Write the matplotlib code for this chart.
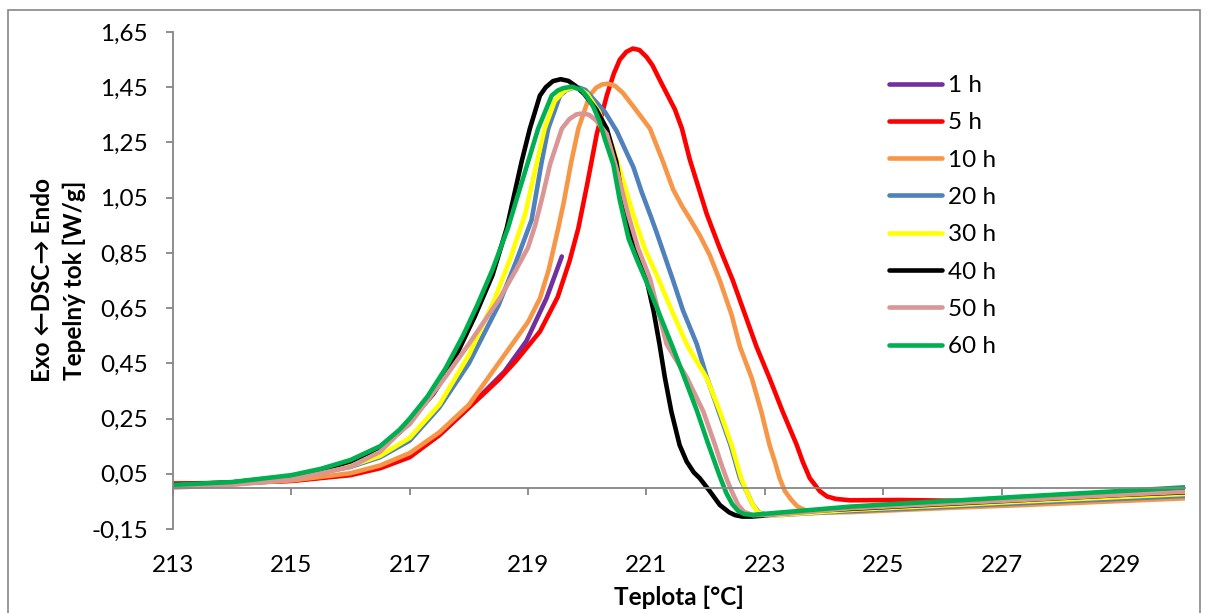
import matplotlib
matplotlib.use("Agg")
import matplotlib.pyplot as plt
from matplotlib.patches import Rectangle

plt.rcParams['font.family'] = ['Lato', 'DejaVu Sans']

# DSC heat-flow curves for different annealing times
labels = ['1 h', '5 h', '10 h', '20 h', '30 h', '40 h', '50 h', '60 h']
colors = ['#7030A0', '#FF0000', '#F79646', '#4F81BD', '#FFFF00', '#000000', '#D99694', '#00B050']

t_1h = [213, 214, 215, 216, 216.5, 217, 217.5, 218, 218.15, 218.6, 218.97, 219.31, 219.57]
q_1h = [0.012, 0.015, 0.025, 0.048, 0.075, 0.115, 0.19, 0.29, 0.323, 0.42, 0.53, 0.685, 0.837]

t_5h = [213, 214, 215, 216, 216.5, 217, 217.5, 218, 218.5, 218.8, 219.2, 219.5, 219.7, 219.85,
        220.0, 220.16, 220.33, 220.45, 220.55, 220.66, 220.77, 220.88, 221.0, 221.1, 221.24,
        221.48, 221.6, 221.73, 222.02, 222.24, 222.46, 222.66, 222.86, 223.08, 223.3, 223.54,
        223.64, 223.76, 223.93, 224.05, 224.2, 224.44, 225.3, 226.3, 227, 228, 229, 230.1]
q_5h = [0.015, 0.017, 0.024, 0.045, 0.07, 0.11, 0.19, 0.29, 0.39, 0.46, 0.565, 0.69, 0.82, 0.94,
        1.10, 1.28, 1.42, 1.50, 1.55, 1.578, 1.59, 1.585, 1.56, 1.53, 1.47,
        1.37, 1.30, 1.19, 0.99, 0.866, 0.75, 0.63, 0.51, 0.396, 0.276, 0.154,
        0.094, 0.034, -0.013, -0.032, -0.041, -0.046, -0.045, -0.048, -0.039, -0.027, -0.015, -0.002]

t_10h = [213, 214, 215, 216, 216.5, 217, 217.5, 218, 218.5, 219.0, 219.2, 219.35, 219.51, 219.6,
         219.73, 219.85, 220.04, 220.15, 220.25, 220.35, 220.47, 220.6, 220.85, 221.06, 221.28,
         221.45, 221.6, 221.73, 221.9, 222.07, 222.24, 222.44, 222.58, 222.78, 222.94, 223.08,
         223.17, 223.25, 223.34, 223.45, 223.55, 223.7, 223.9, 224.44, 225.3, 226.3, 227.3,
         228.3, 229.3, 230.1]
q_10h = [0.005, 0.012, 0.026, 0.052, 0.08, 0.125, 0.2, 0.30, 0.45, 0.60, 0.685, 0.79, 0.94, 1.03,
         1.18, 1.30, 1.42, 1.448, 1.46, 1.463, 1.455, 1.43, 1.36, 1.30, 1.18,
         1.08, 1.02, 0.975, 0.914, 0.842, 0.75, 0.625, 0.51, 0.396, 0.276, 0.154,
         0.094, 0.034, -0.013, -0.045, -0.068, -0.084, -0.09, -0.089, -0.081, -0.072, -0.064,
         -0.055, -0.046, -0.039]

t_20h = [213, 214, 215, 216, 216.5, 217, 217.5, 218, 218.5, 218.8, 219.06, 219.23, 219.34, 219.54,
         219.65, 219.77, 219.87, 219.97, 220.05, 220.3, 220.5, 220.65, 220.78, 220.92, 221.06,
         221.17, 221.25, 221.45, 221.62, 221.85, 222.02, 222.22, 222.42, 222.5, 222.58, 222.69,
         222.8, 222.9, 223.05, 223.3, 223.6, 224.44, 225.3, 226.3, 227.3, 228.3, 229.3, 230.1]
q_20h = [0.005, 0.014, 0.034, 0.075, 0.11, 0.17, 0.29, 0.45, 0.66, 0.82, 0.97, 1.18, 1.30, 1.42,
         1.44, 1.448, 1.448, 1.44, 1.42, 1.36, 1.29, 1.22, 1.16, 1.07, 0.99,
         0.925, 0.875, 0.75, 0.64, 0.52, 0.40, 0.276, 0.154, 0.094, 0.034, -0.013,
         -0.063, -0.09, -0.10, -0.099, -0.095, -0.085, -0.077, -0.067, -0.057, -0.047, -0.038, -0.030]

t_30h = [213, 214, 215, 216, 216.5, 217, 217.5, 218, 218.44, 218.7, 218.95, 219.14, 219.28, 219.45,
         219.6, 219.7, 219.8, 219.9, 220.0, 220.2, 220.44, 220.61, 220.78, 220.97, 221.2,
         221.45, 221.7, 222.02, 222.24, 222.44, 222.52, 222.6, 222.69, 222.8,
         222.88, 223.0, 223.3, 223.6, 224.44, 225.3, 226.3, 227.3, 228.3, 229.3, 230.1]
q_30h = [0.005, 0.014, 0.036, 0.078, 0.115, 0.18, 0.30, 0.48, 0.685, 0.83, 0.99, 1.17, 1.30, 1.40,
         1.435, 1.446, 1.448, 1.44, 1.425, 1.36, 1.228, 1.108, 0.987, 0.866, 0.757,
         0.63, 0.51, 0.396, 0.276, 0.154, 0.094, 0.034, -0.013, -0.063,
         -0.088, -0.10, -0.098, -0.094, -0.081, -0.072, -0.062, -0.051, -0.041, -0.031, -0.023]

t_40h = [213, 214, 215, 215.5, 216, 216.5, 216.83, 217, 217.4, 217.7, 218.1, 218.4, 218.64, 218.89,
         219.03, 219.2, 219.3, 219.42, 219.55, 219.68, 219.8, 219.95, 220.15, 220.33, 220.49,
         220.64, 220.83, 221.0, 221.12, 221.22, 221.31, 221.42, 221.56, 221.68, 221.8,
         221.9, 222.07, 222.24, 222.4, 222.5, 222.62, 222.78, 222.95, 223.2, 224, 225, 226, 227,
         228, 229, 230.1]
q_40h = [0.010, 0.019, 0.042, 0.064, 0.095, 0.145, 0.20, 0.24, 0.34, 0.44, 0.62, 0.77, 0.94, 1.18,
         1.30, 1.42, 1.45, 1.472, 1.479, 1.473, 1.455, 1.425, 1.37, 1.30, 1.18,
         0.99, 0.866, 0.755, 0.64, 0.52, 0.40, 0.276, 0.154, 0.094, 0.055,
         0.034, -0.013, -0.063, -0.09, -0.10, -0.105, -0.105, -0.102, -0.095, -0.082, -0.071,
         -0.060, -0.049, -0.038, -0.027, -0.017]

t_50h = [213, 214, 215, 216, 216.5, 216.83, 217, 217.6, 218, 218.52, 218.8, 219.0, 219.12, 219.25,
         219.37, 219.57, 219.7, 219.82, 219.93, 220.03, 220.15, 220.33, 220.5, 220.69, 220.86,
         221.06, 221.2, 221.34, 221.48, 221.68, 221.96, 222.16, 222.25, 222.35, 222.44, 222.55,
         222.65, 222.8, 223.1, 223.5, 224.44, 225.3, 226.3, 227.3, 228.3, 229.3, 230.1]
q_50h = [0.0, 0.01, 0.03, 0.075, 0.13, 0.20, 0.23, 0.40, 0.52, 0.685, 0.79, 0.87, 0.95, 1.06,
         1.17, 1.30, 1.335, 1.352, 1.355, 1.35, 1.33, 1.28, 1.15, 0.99, 0.866,
         0.757, 0.638, 0.52, 0.47, 0.40, 0.276, 0.154, 0.094, 0.034, -0.013, -0.063,
         -0.088, -0.10, -0.098, -0.092, -0.075, -0.066, -0.055, -0.045, -0.034, -0.023, -0.015]

t_60h = [213, 214, 215, 215.5, 216, 216.5, 216.83, 217, 217.3, 217.6, 217.9, 218.14, 218.4, 218.66,
         218.8, 219.0, 219.17, 219.4, 219.5, 219.6, 219.74, 219.9, 220.0, 220.1, 220.2, 220.3,
         220.44, 220.55, 220.7, 220.85, 221.0, 221.15, 221.3, 221.45, 221.62, 221.85, 222.04,
         222.24, 222.35, 222.45, 222.55, 222.65, 222.8, 223.0, 223.5, 224.0, 224.44, 225.3,
         226.3, 227.3, 228.3, 229.3, 230.1]
q_60h = [0.010, 0.020, 0.045, 0.068, 0.10, 0.15, 0.21, 0.25, 0.33, 0.43, 0.55, 0.66, 0.79, 0.94,
         1.04, 1.18, 1.30, 1.42, 1.438, 1.447, 1.452, 1.44, 1.415, 1.38, 1.33, 1.26,
         1.17, 1.04, 0.90, 0.82, 0.745, 0.665, 0.585, 0.505, 0.41, 0.28, 0.16,
         0.04, -0.02, -0.06, -0.085, -0.096, -0.099, -0.095, -0.086, -0.077, -0.069, -0.058,
         -0.046, -0.033, -0.021, -0.009, 0.001]

temps = [t_1h, t_5h, t_10h, t_20h, t_30h, t_40h, t_50h, t_60h]
flows = [q_1h, q_5h, q_10h, q_20h, q_30h, q_40h, q_50h, q_60h]

xticks = [213, 215, 217, 219, 221, 223, 225, 227, 229]
yticks = [-0.15, 0.05, 0.25, 0.45, 0.65, 0.85, 1.05, 1.25, 1.45, 1.65]
ytick_labels = ['-0,15', '0,05', '0,25', '0,45', '0,65', '0,85', '1,05', '1,25', '1,45', '1,65']

W, H = 1208, 613
FS = 17.5
fig = plt.figure(figsize=(W / 100, H / 100), dpi=100)
ax = fig.add_axes([173 / W, 1 - 529 / H, 1012 / W, 497 / H])

gray = '#868686'
for t, q, c, lab in zip(temps, flows, colors, labels):
    ax.plot(t, q, color=c, lw=3.3, label=lab, solid_capstyle='round', solid_joinstyle='round')

ax.set_xlim(213, 230.1)
ax.set_ylim(-0.15, 1.65)

for s in ['top', 'right']:
    ax.spines[s].set_visible(False)
ax.spines['left'].set_color(gray)
ax.spines['bottom'].set_color(gray)
ax.spines['left'].set_linewidth(1.3)
ax.spines['bottom'].set_linewidth(1.3)
ax.spines['bottom'].set_position(('data', 0))

ax.set_yticks(yticks, labels=ytick_labels)
ax.tick_params(axis='y', direction='out', length=5, width=1.3, color=gray, labelsize=FS, pad=13)
ax.set_xticks(xticks)
ax.tick_params(axis='x', direction='out', length=5, width=1.3, color=gray, labelbottom=False)

sec = ax.secondary_xaxis(0)
sec.set_xticks(xticks, labels=[str(v) for v in xticks])
sec.tick_params(length=0, labelsize=FS, pad=19)
sec.spines['bottom'].set_visible(False)
sec.set_xlabel('Teplota [°C]', fontsize=FS, fontweight='bold', labelpad=7)

ax.set_ylabel('Exo ←DSC→ Endo\nTepelný tok [W/g]', fontsize=FS, fontweight='bold',
              linespacing=1.45, labelpad=4)

ax.legend(loc='upper left', bbox_to_anchor=(889 / W, 1 - 75 / H), bbox_transform=fig.transFigure,
          frameon=False, fontsize=FS, handlelength=2.18, handletextpad=0.25,
          labelspacing=0.67, borderpad=0, borderaxespad=0)

fig.patches.append(Rectangle((8 / W, -0.01), 1192 / W, 1 - 10 / H + 0.01,
                             transform=fig.transFigure, fill=False, edgecolor=gray, lw=1.2))

fig.savefig('out.png', dpi=100)
